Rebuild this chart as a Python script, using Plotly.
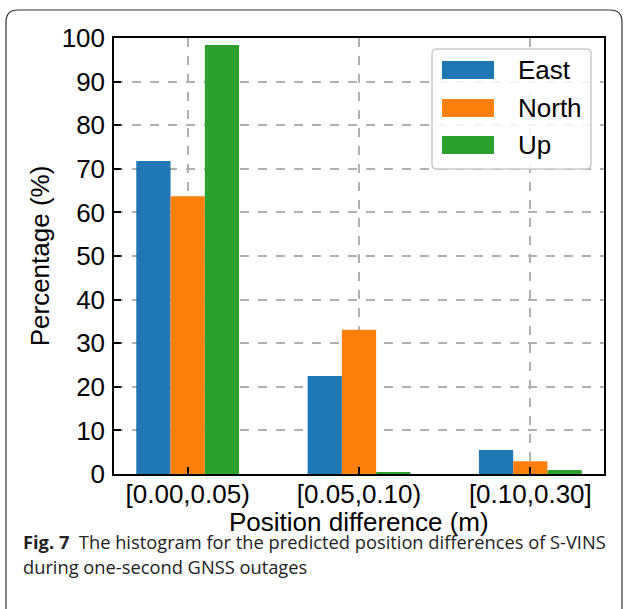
import plotly.graph_objects as go

categories = ["[0.00,0.05)", "[0.05,0.10)", "[0.10,0.30]"]
east = [71.8, 22.5, 5.5]
north = [63.7, 33.1, 2.9]
up = [98.4, 0.4, 0.9]
series_names = ["East", "North", "Up"]
colors = ["#1f77b4", "#ff7f0e", "#2ca02c"]
y_ticks = list(range(0, 101, 10))

W, H = 625, 609
L, R, T, B = 114, 21, 38, 135
pw, ph = W - L - R, H - T - B


def px(x):
    return (x - L) / pw


def py(y):
    return (H - B - y) / ph


FONT = "Liberation Sans, Arial, sans-serif"

fig = go.Figure()
xs = list(range(len(categories)))
for name, vals, c in zip(series_names, [east, north, up], colors):
    fig.add_trace(go.Bar(x=xs, y=vals, name=name, marker=dict(color=c, line=dict(width=0)),
                         showlegend=False))

fig.update_layout(
    width=W, height=H,
    margin=dict(l=L, r=R, t=T, b=B),
    paper_bgcolor="white", plot_bgcolor="white",
    barmode="group", bargap=0.4, bargroupgap=0,
    font=dict(family=FONT, size=26, color="black"),
)
fig.update_xaxes(
    range=[-0.43, 2.43], tickmode="array", tickvals=xs, ticktext=categories,
    showline=True, linecolor="black", linewidth=1.5, mirror=True,
    ticks="inside", ticklen=7, tickwidth=1.5, tickcolor="black",
    showgrid=True, gridcolor="#b0b0b0", griddash="dash", gridwidth=1.5,
    tickfont=dict(size=26, family=FONT), ticklabelstandoff=-4,
    zeroline=False,
)
fig.update_yaxes(
    range=[0, 100], tickmode="array", tickvals=y_ticks,
    showline=True, linecolor="black", linewidth=1.5, mirror=True,
    ticks="inside", ticklen=7, tickwidth=1.5, tickcolor="black",
    showgrid=True, gridcolor="#b0b0b0", griddash="dash", gridwidth=1.5,
    tickfont=dict(size=26, family=FONT), ticklabelstandoff=2,
    title=dict(text="Percentage (%)", font=dict(size=26, family=FONT), standoff=5),
    zeroline=False,
)

# x-axis title placed as an annotation for precise vertical position
fig.add_annotation(x=0.5, y=py(522), xref="paper", yref="paper",
                   text="Position difference (m)", showarrow=False,
                   xanchor="center", yanchor="middle",
                   font=dict(size=26, family=FONT, color="black"))


def P(x, y):
    return f"{px(x):.5f},{py(y):.5f}"


def rounded_rect(x0, y0, x1, y1, r):
    return (f"M{P(x0 + r, y0)} L{P(x1 - r, y0)} Q{P(x1, y0)} {P(x1, y0 + r)} "
            f"L{P(x1, y1 - r)} Q{P(x1, y1)} {P(x1 - r, y1)} L{P(x0 + r, y1)} "
            f"Q{P(x0, y1)} {P(x0, y1 - r)} L{P(x0, y0 + r)} Q{P(x0, y0)} {P(x0 + r, y0)} Z")


# Legend box
fig.add_shape(type="path", path=rounded_rect(432, 49, 591, 169, 5), xref="paper", yref="paper",
              line=dict(color="#cccccc", width=1.5), fillcolor="rgba(255,255,255,0.85)", layer="above")
leg_y = [70, 108, 145]
for name, c, yy in zip(series_names, colors, leg_y):
    fig.add_shape(type="rect", xref="paper", yref="paper",
                  x0=px(442), x1=px(494), y0=py(yy - 9), y1=py(yy + 9),
                  fillcolor=c, line=dict(width=0), layer="above")
    fig.add_annotation(x=px(516), y=py(yy), xref="paper", yref="paper", text=name,
                       showarrow=False, xanchor="left", yanchor="middle",
                       font=dict(size=26, family=FONT, color="black"))

# Outer figure border (open at bottom)
rad = 12
border = (f"M{P(6, 640)} L{P(6, 10 + rad)} Q{P(6, 10)} {P(6 + rad, 10)} "
          f"L{P(622 - rad, 10)} Q{P(622, 10)} {P(622, 10 + rad)} L{P(622, 640)}")
fig.add_shape(type="path", path=border, xref="paper", yref="paper",
              line=dict(color="#333333", width=1.2), layer="above")

# Caption
CAP_FONT = "Open Sans, Noto Sans, sans-serif"
fig.add_annotation(x=px(21), y=py(541), xref="paper", yref="paper",
                   text="<b>Fig. 7</b>  The histogram for the predicted position differences of S-VINS",
                   showarrow=False, xanchor="left", yanchor="middle",
                   font=dict(size=18.3, family=CAP_FONT, color="#222222"))
fig.add_annotation(x=px(21), y=py(566), xref="paper", yref="paper",
                   text="during one-second GNSS outages",
                   showarrow=False, xanchor="left", yanchor="middle",
                   font=dict(size=18.3, family=CAP_FONT, color="#222222"))

fig.write_html("out.html", config={"displayModeBar": False},
               post_script="document.body.style.margin='0';document.body.style.overflow='hidden';")
